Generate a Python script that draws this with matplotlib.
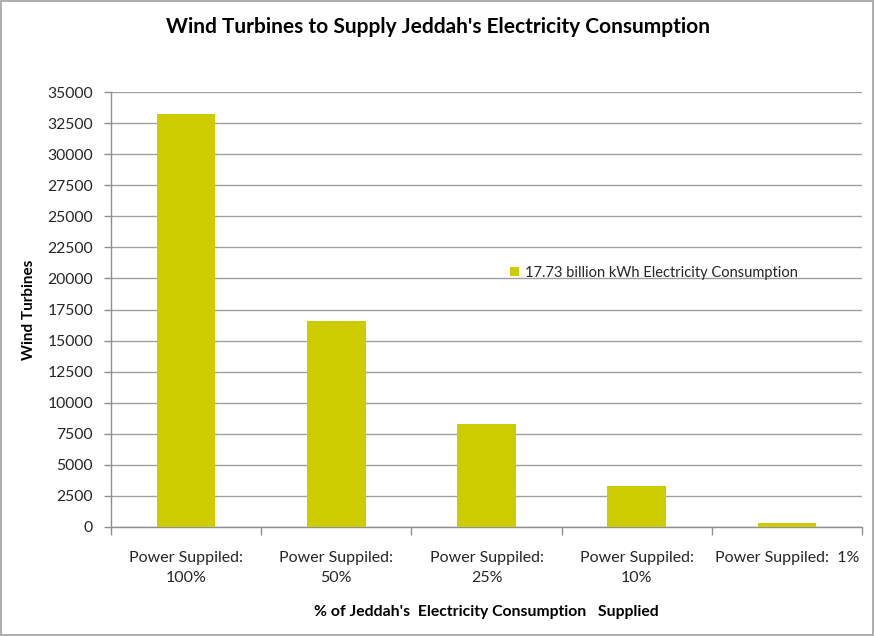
import matplotlib
matplotlib.use("Agg")
import matplotlib.pyplot as plt
from matplotlib.patches import Rectangle

categories = ["Power Suppiled:\n100%", "Power Suppiled:\n50%", "Power Suppiled:\n25%",
              "Power Suppiled:\n10%", "Power Suppiled:  1%"]
values = [33200, 16600, 8300, 3320, 332]
series_name = "17.73 billion kWh Electricity Consumption"
yticks = list(range(0, 35001, 2500))

plt.rcParams['font.family'] = ['Lato', 'DejaVu Sans']
bar_color = "#CCCC00"
text_color = "#262626"

fig = plt.figure(figsize=(8.75, 6.36), dpi=100)
fig.patch.set_facecolor("white")
fig.add_artist(Rectangle((0.001, 0.001), 0.997, 0.997, transform=fig.transFigure,
                         fill=False, edgecolor="#A0A0A0", linewidth=1.2))

ax = fig.add_axes([111/875, 1-527/636, (862-111)/875, (527-92)/636])
x = list(range(len(categories)))
ax.bar(x, values, width=0.39, color=bar_color, zorder=3, label=series_name)
ax.set_xlim(-0.5, len(categories)-0.5)
ax.set_ylim(0, 35000)
ax.set_yticks(yticks)
ax.set_yticklabels([str(v) for v in yticks], fontsize=11.3, color=text_color)
ax.yaxis.grid(True, color="#A0A0A0", linewidth=1, zorder=0)
ax.set_axisbelow(True)
ax.set_xticks(x)
ax.set_xticklabels(categories, fontsize=11.5, linespacing=1.6, color=text_color)
ax.tick_params(axis='x', length=0, pad=17)
ax.set_xticks([i+0.5 for i in range(-1, len(categories))], minor=True)
ax.tick_params(axis='x', which='minor', length=6, color="#909090", width=1)
ax.tick_params(axis='y', length=5, color="#909090", width=1, pad=8)
for s in ['top', 'right']:
    ax.spines[s].set_visible(False)
for s in ['left', 'bottom']:
    ax.spines[s].set_color("#909090")
    ax.spines[s].set_linewidth(1)

ax.set_ylabel("Wind Turbines", fontsize=11, fontweight='bold', labelpad=8, color="black")
ax.set_xlabel("% of Jeddah's  Electricity Consumption   Supplied", fontsize=11.3,
              fontweight='bold', labelpad=14, color="black")
fig.text(0.5, 1-27/636, "Wind Turbines to Supply Jeddah's Electricity Consumption",
         ha='center', va='center', fontsize=15, fontweight='bold')

leg = ax.legend(loc='center left', bbox_to_anchor=((503-111)/(862-111), (527-273)/(527-92)),
                frameon=False, fontsize=10.5, handlelength=0.6, handleheight=0.6,
                handletextpad=0.4, borderpad=0)
for t in leg.get_texts():
    t.set_color(text_color)
fig.savefig("out.png", dpi=100)
